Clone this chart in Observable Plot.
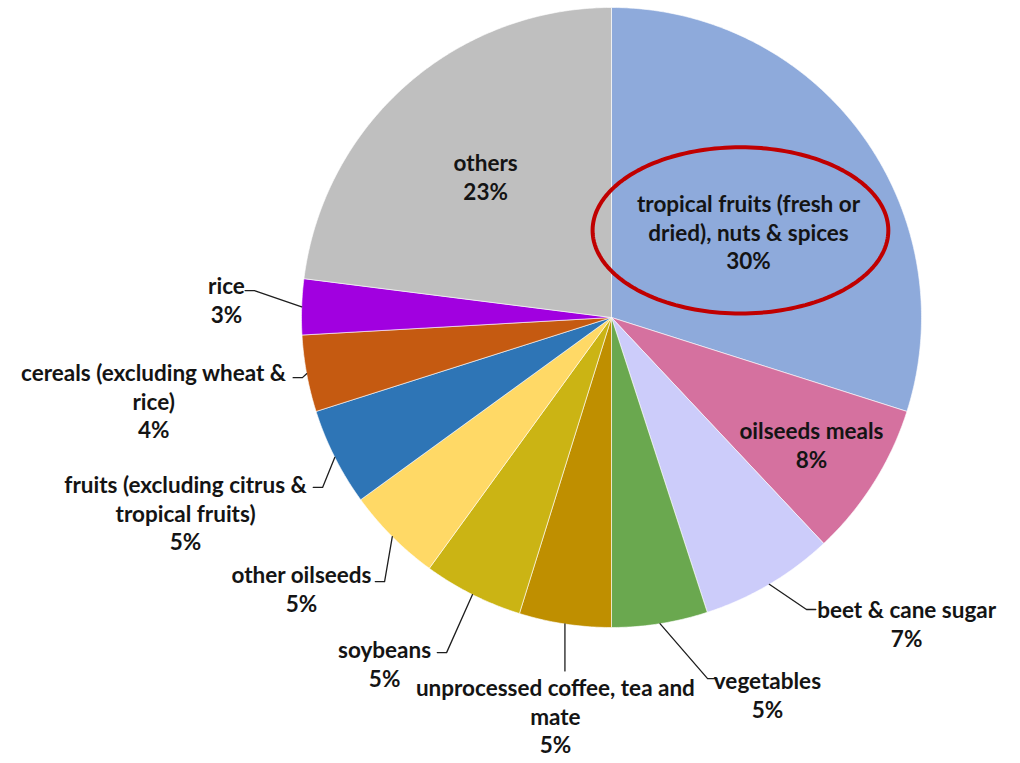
<!DOCTYPE html>
<html><head><meta charset="utf-8">
<script src="https://cdn.jsdelivr.net/npm/d3@7"></script>
<script src="https://cdn.jsdelivr.net/npm/@observablehq/plot@0.6"></script>
<style>body{margin:0;background:#fff}#chart svg{display:block}</style>
</head><body><div id="chart"></div>
<script>
// ---- data (clockwise from 12 o'clock) ----
const categories = [
  "tropical fruits (fresh or dried), nuts & spices",
  "oilseeds meals",
  "beet & cane sugar",
  "vegetables",
  "unprocessed coffee, tea and mate",
  "soybeans",
  "other oilseeds",
  "fruits (excluding citrus & tropical fruits)",
  "cereals (excluding wheat & rice)",
  "rice",
  "others"
];
const shares = [29.9, 8.1, 7.0, 5.0, 4.8, 5.2, 5.0, 5.1, 4.0, 2.9, 23.0];
const colors = ["#8eaadb", "#d5719f", "#ccccfa", "#6aa84f", "#bf8f00", "#cbb414",
                "#ffd966", "#2e75b6", "#c55a11", "#a100e0", "#bfbfbf"];
const labelNames = [
  "tropical fruits (fresh or\ndried), nuts & spices",
  "oilseeds meals",
  "beet & cane sugar",
  "vegetables",
  "unprocessed coffee, tea and\nmate",
  "soybeans",
  "other oilseeds",
  "fruits (excluding citrus &\ntropical fruits)",
  "cereals (excluding wheat &\nrice)",
  "rice",
  "others"
];

// ---- layout (in pie-radius units, relative to the pie centre) ----
const labelX = [0.442, 0.645, 0.952, 0.503, -0.181, -0.732, -1.000, -1.374, -1.477, -1.242, -0.406];
const labelY = [-0.277, 0.410, 0.987, 1.216, 1.284, 1.115, 0.874, 0.629, 0.268, -0.058, -0.455];
const elbowX = [null, null, 0.629, 0.310, -0.155, -0.532, -0.732, -0.932, -0.997, -1.152, null];
const elbowY = [null, null, 0.942, 1.165, 1.140, 1.081, 0.852, 0.548, 0.194, -0.087, null];
const elbowSide = [0, 0, 1, 1, 0, -1, -1, -1, -1, -1, 0];
const highlight = {cx: 0.416, cy: -0.281, rx: 0.477, ry: 0.268};

// ---- build tables ----
const arcs = d3.pie().sort(null).value(d => d)(shares);
const slicePts = [];
arcs.forEach((a, i) => {
  slicePts.push({name: categories[i], color: colors[i], x: 0, y: 0});
  const n = Math.max(2, Math.ceil((a.endAngle - a.startAngle) / 0.008));
  for (let k = 0; k <= n; k++) {
    const t = a.startAngle + (a.endAngle - a.startAngle) * k / n;
    slicePts.push({name: categories[i], color: colors[i], x: Math.sin(t), y: -Math.cos(t)});
  }
  slicePts.push({name: categories[i], color: colors[i], x: 0, y: 0});
});

const leaderPts = [];
arcs.forEach((a, i) => {
  if (elbowX[i] == null) return;
  const m = (a.startAngle + a.endAngle) / 2;
  const ex = Math.sin(m), ey = -Math.cos(m);
  leaderPts.push({name: categories[i], x: ex, y: ey});
  const bx = elbowSide[i] === 0 ? ex : elbowX[i];
  leaderPts.push({name: categories[i], x: bx, y: elbowY[i]});
  if (elbowSide[i] !== 0) leaderPts.push({name: categories[i], x: bx + 0.03 * elbowSide[i], y: elbowY[i]});
});

const ellipsePts = d3.range(0, 361, 2).map(deg => {
  const t = deg * Math.PI / 180;
  return {x: highlight.cx + highlight.rx * Math.cos(t), y: highlight.cy + highlight.ry * Math.sin(t)};
});

const labels = categories.map((c, i) => ({
  text: labelNames[i] + "\n" + Math.round(shares[i]) + "%",
  x: labelX[i], y: labelY[i]
}));

const chart = Plot.plot({
  width: 1020, height: 763, margin: 0,
  x: {domain: [-1, 1], range: [301, 921], axis: null},
  y: {domain: [-1, 1], range: [7, 627], axis: null},
  color: {type: "identity"},
  style: {background: "#fff"},
  marks: [
    Plot.line(slicePts, {x: "x", y: "y", z: "name", fill: "color", stroke: "#ffffff", strokeWidth: 1, strokeOpacity: 0.6, curve: "linear"}),
    Plot.line(leaderPts, {x: "x", y: "y", z: "name", stroke: "#1e1e1e", strokeWidth: 1.3, curve: "linear"}),
    Plot.line(ellipsePts, {x: "x", y: "y", stroke: "#c00000", strokeWidth: 4, curve: "linear"}),
    Plot.text(labels, {x: "x", y: "y", text: "text", fontSize: 22.5, fontWeight: "bold", fontFamily: "Lato",
      lineHeight: 1.27, fill: "#141414", textAnchor: "middle", lineAnchor: "middle"})
  ]
});
document.getElementById("chart").appendChild(chart);
</script>
</body></html>
